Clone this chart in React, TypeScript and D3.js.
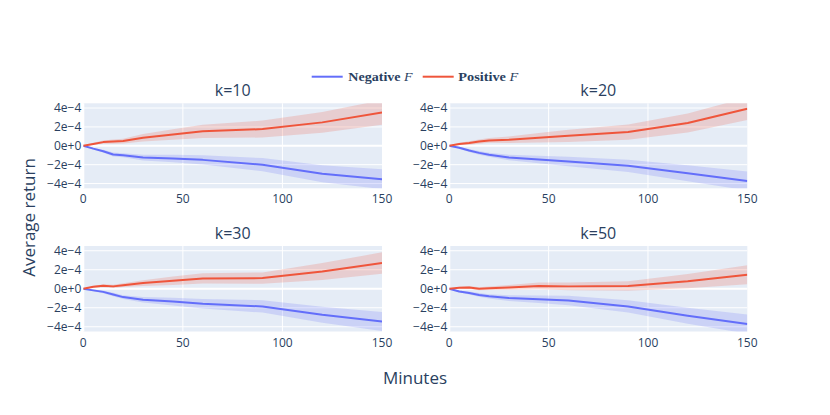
import React from 'react'
import * as d3 from 'd3'

// values are in units of 1e-4
const minutes = [0, 5, 10, 15, 20, 30, 45, 60, 90, 120, 150]
const panelTitles = ['k=10', 'k=20', 'k=30', 'k=50']
const seriesNames = ['Negative', 'Positive']

const negMean = [
  [0, -0.3, -0.57, -0.92, -1.0, -1.25, -1.35, -1.49, -2.0, -2.97, -3.53],
  [0, -0.2, -0.5, -0.75, -0.95, -1.24, -1.45, -1.66, -2.12, -2.9, -3.72],
  [0, -0.17, -0.33, -0.6, -0.88, -1.16, -1.35, -1.58, -1.86, -2.74, -3.44],
  [0, -0.28, -0.45, -0.65, -0.8, -0.98, -1.1, -1.23, -1.86, -2.84, -3.72],
]
const negErr = [
  [0, 0.1, 0.15, 0.2, 0.22, 0.3, 0.4, 0.5, 0.7, 0.9, 1.05],
  [0, 0.1, 0.15, 0.2, 0.22, 0.3, 0.4, 0.5, 0.65, 0.85, 1.0],
  [0, 0.1, 0.15, 0.18, 0.2, 0.3, 0.4, 0.5, 0.65, 0.85, 1.0],
  [0, 0.1, 0.15, 0.2, 0.22, 0.3, 0.4, 0.5, 0.65, 0.85, 1.0],
]
const posMean = [
  [0, 0.2, 0.39, 0.45, 0.5, 0.85, 1.2, 1.53, 1.77, 2.48, 3.54],
  [0, 0.2, 0.3, 0.45, 0.57, 0.64, 0.85, 1.06, 1.45, 2.41, 3.93],
  [0, 0.2, 0.32, 0.25, 0.38, 0.6, 0.84, 1.09, 1.12, 1.82, 2.7],
  [0, 0.1, 0.14, 0.0, 0.05, 0.14, 0.3, 0.25, 0.3, 0.8, 1.47],
]
const posErr = [
  [0, 0.12, 0.18, 0.22, 0.25, 0.4, 0.55, 0.7, 0.9, 1.1, 1.3],
  [0, 0.12, 0.18, 0.22, 0.25, 0.35, 0.5, 0.65, 0.8, 1.0, 1.2],
  [0, 0.1, 0.15, 0.18, 0.2, 0.3, 0.45, 0.55, 0.6, 0.9, 1.13],
  [0, 0.1, 0.14, 0.16, 0.18, 0.25, 0.35, 0.42, 0.5, 0.75, 1.0],
]
const xTicks = [0, 50, 100, 150]
const yTicks = [-4, -2, 0, 2, 4]
const yTickLabels = ['−4e−4', '−2e−4', '0e+0', '2e−4', '4e−4']

const W = 830
const H = 415
const font = '"Open Sans", sans-serif'
const textColor = '#2a3f5f'
const blue = '#636efa'
const red = '#EF553B'

const colX = [
  [83.3, 382],
  [449.3, 747.3],
]
const rowY = [
  [103.3, 188.3],
  [246, 331.5],
]

const Panel = ({ idx }: { idx: number }) => {
  const [x0, x1] = colX[idx % 2]
  const [y0, y1] = rowY[Math.floor(idx / 2)]
  const x = d3.scaleLinear().domain([0, 150]).range([x0, x1])
  const y = d3.scaleLinear().domain([-4.5, 4.5]).range([y1, y0])
  const series = [
    { mean: negMean[idx], err: negErr[idx], color: blue, fill: 'rgba(99,110,250,0.2)' },
    { mean: posMean[idx], err: posErr[idx], color: red, fill: 'rgba(239,85,59,0.2)' },
  ]
  const clipId = `clip-${idx}`
  return (
    <g>
      <defs>
        <clipPath id={clipId}>
          <rect x={x0} y={y0} width={x1 - x0} height={y1 - y0} />
        </clipPath>
      </defs>
      <rect x={x0} y={y0} width={x1 - x0} height={y1 - y0} fill="#E5ECF6" />
      {xTicks.slice(1, 3).map((t) => (
        <line key={t} x1={x(t)} x2={x(t)} y1={y0} y2={y1} stroke="#fff" strokeWidth={1} />
      ))}
      {yTicks.map((t) => (
        <line
          key={t}
          x1={x0}
          x2={x1}
          y1={y(t)}
          y2={y(t)}
          stroke="#fff"
          strokeWidth={t === 0 ? 2 : 1}
        />
      ))}
      <line x1={x(0)} x2={x(0)} y1={y0} y2={y1} stroke="#fff" strokeWidth={2} />
      <g clipPath={`url(#${clipId})`}>
        {series.map((s, i) => {
          const area = d3
            .area<number>()
            .x((_, j) => x(minutes[j]))
            .y0((d, j) => y(d - s.err[j]))
            .y1((d, j) => y(d + s.err[j]))
          return <path key={'a' + i} d={area(s.mean) || ''} fill={s.fill} stroke="none" />
        })}
        {series.map((s, i) => {
          const line = d3
            .line<number>()
            .x((_, j) => x(minutes[j]))
            .y((d) => y(d))
          return (
            <path
              key={'l' + i}
              d={line(s.mean) || ''}
              fill="none"
              stroke={s.color}
              strokeWidth={2}
              strokeLinejoin="round"
            />
          )
        })}
      </g>
      {yTicks.map((t, i) => (
        <text
          key={t}
          x={x0 - 2}
          y={y(t)}
          dy="0.35em"
          textAnchor="end"
          fontSize={12}
          fontFamily={font}
          fill={textColor}
        >
          {yTickLabels[i]}
        </text>
      ))}
      {xTicks.map((t) => (
        <text
          key={t}
          x={x(t)}
          y={y1 + 15}
          textAnchor="middle"
          fontSize={12}
          fontFamily={font}
          fill={textColor}
        >
          {t}
        </text>
      ))}
      <text
        x={(x0 + x1) / 2}
        y={y0 - 7.5}
        textAnchor="middle"
        fontSize={16}
        fontFamily={font}
        fill={textColor}
      >
        {panelTitles[idx]}
      </text>
    </g>
  )
}

const legendItems = [
  { name: seriesNames[0], color: blue, lx: 311.7, tx: 348.3, tw: 64.4 },
  { name: seriesNames[1], color: red, lx: 422.7, tx: 458.3, tw: 60 },
]

export default function App() {
  return (
    <svg
      width={W}
      height={H}
      style={{ position: 'absolute', left: 0, top: 0, background: '#fff' }}
    >
      {panelTitles.map((_, i) => (
        <Panel key={i} idx={i} />
      ))}
      {legendItems.map((it) => (
        <g key={it.name}>
          <line x1={it.lx} x2={it.lx + 31} y1={76.7} y2={76.7} stroke={it.color} strokeWidth={2} />
          <text
            x={it.tx}
            y={81}
            fontSize={12.5}
            fontFamily='"Liberation Serif", serif'
            fontWeight="bold"
            fill={textColor}
            textLength={it.tw}
            lengthAdjust="spacingAndGlyphs"
          >
            {it.name}{' '}
            <tspan fontStyle="italic" fontWeight="normal">
              F
            </tspan>
          </text>
        </g>
      ))}
      <text
        transform="translate(35,217.5) rotate(-90)"
        textAnchor="middle"
        fontSize={17}
        fontFamily={font}
        fill={textColor}
      >
        Average return
      </text>
      <text x={415} y={383.5} textAnchor="middle" fontSize={17} fontFamily={font} fill={textColor}>
        Minutes
      </text>
    </svg>
  )
}
